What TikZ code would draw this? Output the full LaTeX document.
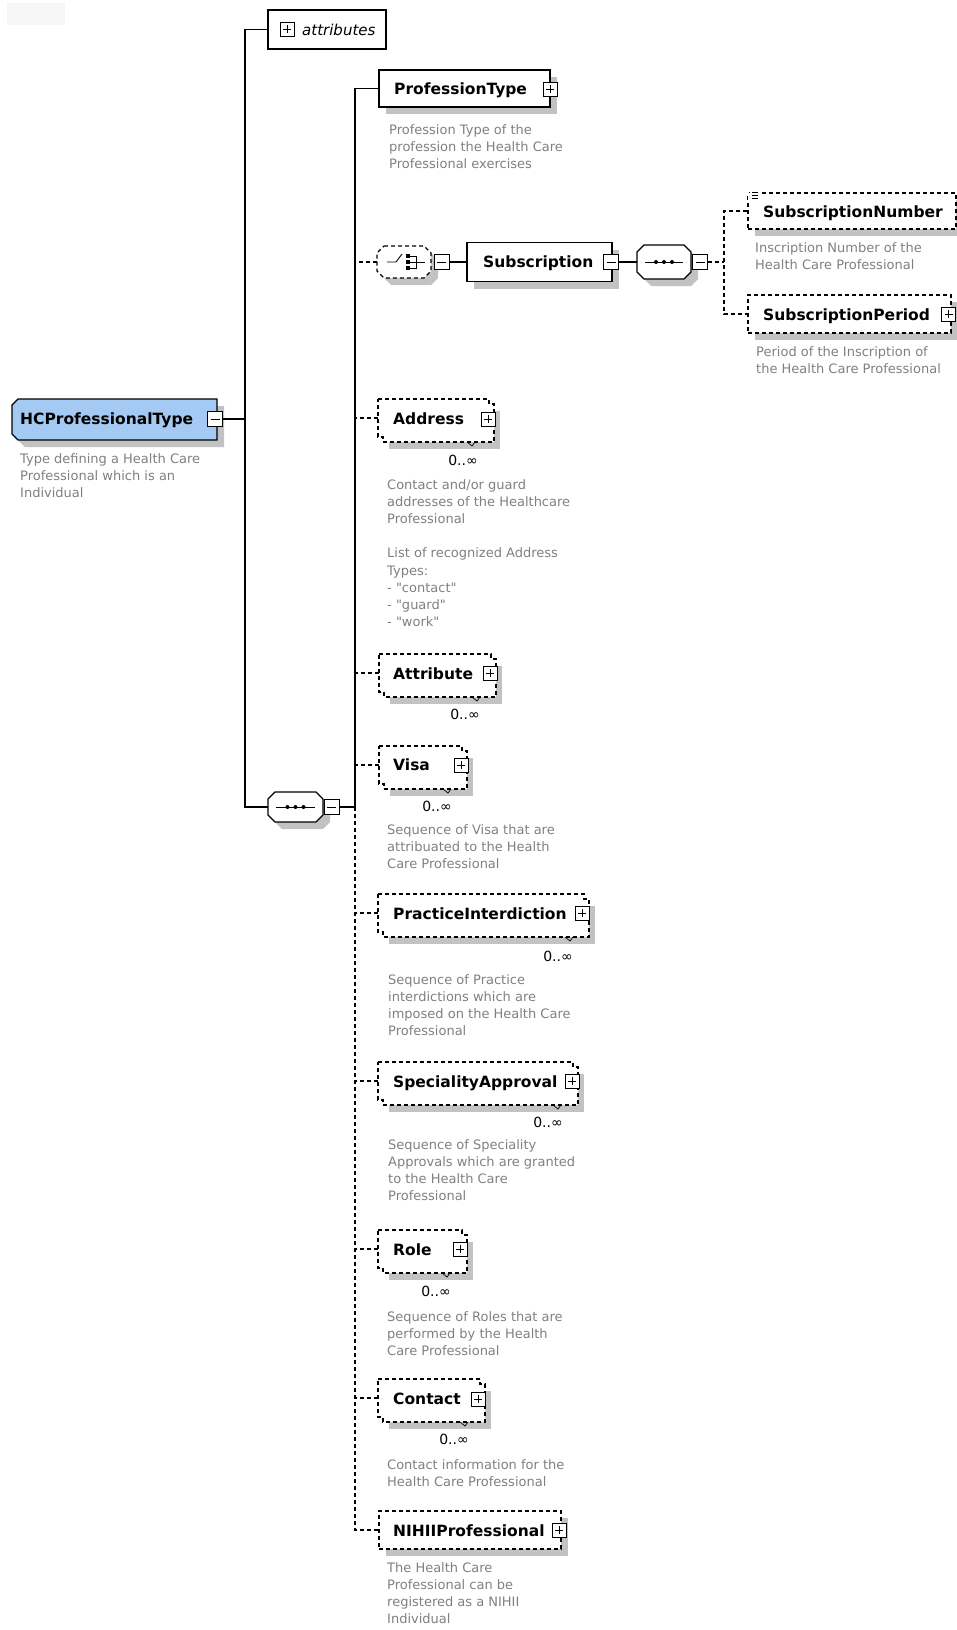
\documentclass[tikz,border=0pt]{standalone}
\usepackage{fontspec}
\setmainfont{DejaVu Sans}
\newfontfamily\quotefont{DejaVu Sans}
\usetikzlibrary{positioning,fit,shadows}
\definecolor{hcblue}{RGB}{164,201,242}
\definecolor{shadowgray}{RGB}{194,194,194}
\definecolor{descgray}{RGB}{128,128,128}
\newcommand{\elemfont}{\fontsize{15.5}{18}\selectfont\bfseries}
\newcommand{\descfont}{\fontsize{13}{17.2}\selectfont}
\newcommand{\cardfont}{\fontsize{14}{16}\selectfont}
\newcommand{\attrfont}{\fontsize{15}{18}\selectfont\itshape}
\newcommand{\qq}{{\quotefont"}}
\tikzset{
  conn/.style={line width=1.1pt},
  opt/.style={conn, dash pattern=on 4pt off 3pt},
  shade box/.style={drop shadow={shadow xshift=7pt, shadow yshift=-7pt, fill=shadowgray, opacity=1}},
  plainbox/.style={draw, fill=white, line width=1.1pt, inner sep=0pt},
  elem/.style={plainbox, shade box},
  optelem/.style={elem, dash pattern=on 4pt off 3pt},
  pmbox/.style={draw, fill=white, line width=0.9pt, minimum size=15pt, inner sep=0pt},
  plusbox/.style={pmbox, minimum size=14pt, path picture={
    \draw[line width=0.9pt] ([xshift=3pt]path picture bounding box.west) -- ([xshift=-3pt]path picture bounding box.east)
      ([yshift=-3pt]path picture bounding box.north) -- ([yshift=3pt]path picture bounding box.south);}},
  minusbox/.style={pmbox, path picture={
    \draw[line width=0.9pt] ([xshift=3pt]path picture bounding box.west) -- ([xshift=-3pt]path picture bounding box.east);}},
  lbl/.style={anchor=base west, inner sep=0pt, font=\elemfont},
  desc/.style={anchor=north west, inner sep=0pt, align=left, font=\descfont, text=descgray},
  card/.style={inner sep=0pt, font=\cardfont}
}
% element that may occur many times: front box (#2,#3)-(#4,#5), notch at x=#6
\newcommand{\manybox}[6]{%
  \fill[shadowgray] (#2+11,#3+12) rectangle (#4+11,#5+12);
  \filldraw[fill=white, opt] (#2,#3) -- (#4,#3) -- (#4,#3+5) -- (#4+5,#3+5) -- (#4+5,#5+5)
    -- (#2+5,#5+5) -- (#2+5,#5) -- (#2,#5) -- cycle;
  \draw[line width=0.7pt] (#6-5,#5+5) -- (#6,#5+9) -- (#6+3,#5+5);
  \node[inner sep=0pt, fit={(#2,#3) (#4,#5)}] (#1) {};
}
% compositor octagon (#2,#3)-(#4,#5), extra line options #6
\newcommand{\compbox}[6]{%
  \fill[shadowgray] (#2+14,#3+7) -- (#4,#3+7) -- (#4+7,#3+14) -- (#4+7,#5) -- (#4,#5+7)
    -- (#2+14,#5+7) -- (#2+7,#5) -- (#2+7,#3+14) -- cycle;
  \filldraw[fill=white, conn, #6] (#2+7,#3) -- (#4-7,#3) -- (#4,#3+7) -- (#4,#5-7) -- (#4-7,#5)
    -- (#2+7,#5) -- (#2,#5-7) -- (#2,#3+7) -- cycle;
  \node[inner sep=0pt, fit={(#2,#3) (#4,#5)}] (#1) {};
}
\newcommand{\seqicon}[1]{%
  \draw[line width=1pt] ([xshift=8pt]#1.west) -- ([xshift=-8pt]#1.east);
  \foreach \d in {-8,0,8} \fill[black] ([xshift=\d pt]#1.center) circle (2pt);
}

\begin{document}
\begin{tikzpicture}[x=1pt,y=-1pt]
    \useasboundingbox (0,0) rectangle (957,1630);
    \fill[gray!7] (7,3) rectangle (65,25);

    % the complex type
    \fill[shadowgray] (25,406) -- (224,406) -- (224,447) -- (25,447) -- (19,441) -- (19,412) -- cycle;
    \filldraw[fill=hcblue, conn] (18,399) -- (217,399) -- (217,440) -- (18,440) -- (12,434) -- (12,405) -- cycle;
    \node[inner sep=0pt, fit={(12,399) (217,440)}] (hc) {};
    \node[lbl] (hcL) at (20,424) {HCProfessionalType};
    \node[minusbox] (hcM) at (215,419) {};
    \node[desc] (hcD) at (20,453) {Type defining a Health Care\\Professional which is an\\Individual};

    \node[plainbox, minimum width=118pt, minimum height=39pt] (attr) at (327,29.5) {};
    \node[plusbox] (attrP) at (287,29) {};
    \node[anchor=base west, inner sep=0pt, font=\attrfont] (attrL) at (302,35) {attributes};

    \compbox{seq}{268}{792}{323}{822}{}
    \seqicon{seq}
    \node[minusbox] (seqM) at (331.5,807) {};

    \coordinate (j1) at (245,419);
    \coordinate (b0) at (355,807);
    \draw[conn] (hcM.east) -- (j1);
    \draw[conn] (attr.west) -| (j1) |- (seq.west);
    \draw[conn] (seqM.east) -- (b0);

    % children of the sequence
    \node[elem, minimum width=171pt, minimum height=37pt] (prof) at (464.5,88.5) {};
    \node[lbl] (profL) at (394,94) {ProfessionType};
    \node[plusbox] (profP) at (550,89) {};
    \node[desc] (profD) at (389,124) {Profession Type of the\\profession the Health Care\\Professional exercises};
    \draw[conn] (prof.west) -| (b0);

    \compbox{choice}{377}{246}{431}{278}{dash pattern=on 4pt off 3pt}
    \begin{scope}[shift={(choice.center)}, line width=0.9pt]
      \draw (-17,0) -- (-8,0) -- (-2,-8);
      \foreach \d in {-6,0,6} \fill (2.2,\d-1.8) rectangle (5.8,\d+1.8);
      \draw (6,-6) -- (12,-6) -- (12,6) -- (6,6) (6,0) -- (21,0);
    \end{scope}
    \node[minusbox] (choiceM) at (441.5,262) {};
    \node[elem, minimum width=145pt, minimum height=39pt] (sub) at (539.5,262) {};
    \node[lbl] (subL) at (483,267.5) {Subscription};
    \node[minusbox] (subM) at (611,262) {};
    \compbox{seq2}{637}{245}{691}{279}{}
    \seqicon{seq2}
    \node[minusbox] (seq2M) at (700,262) {};
    \coordinate (b1) at (724,262);
    \draw[conn] (choiceM.east) -- (sub.west);
    \draw[conn] (subM.east) -- (seq2.west);
    \draw[opt] (seq2M.east) -- (b1);

    \node[optelem, minimum width=208pt, minimum height=36pt] (snum) at (852,211) {};
    \node[lbl] (snumL) at (763,217) {SubscriptionNumber};
    \fill[white] (748,190) rectangle (759,200);
    \draw[line width=0.7pt] (749,192) -- (750,192) (752,192) -- (758,192) (752,195) -- (758,195) (752,198) -- (758,198);
    \node[desc] (snumD) at (755,242) {Inscription Number of the\\Health Care Professional};
    \node[optelem, minimum width=203pt, minimum height=38pt] (sper) at (849.5,314) {};
    \node[lbl] (sperL) at (763,320) {SubscriptionPeriod};
    \node[plusbox] (sperP) at (948.5,314) {};
    \node[desc] (sperD) at (756,346) {Period of the Inscription of\\the Health Care Professional};
    \draw[opt] (snum.west) -| (b1) |- (sper.west);

    \manybox{addr}{378}{399}{489}{437}{472}
    \node[plusbox] (addrP) at (488,419) {};
    \node[lbl] (addrL) at (393,424.5) {Address};
    \node[card] (addrN) at (463,460) {0..∞};
    \node[desc] (addrD) at (387,479) {Contact and/or guard\\addresses of the Healthcare\\Professional\\\mbox{}\\List of recognized Address\\Types:\\- \qq contact\qq\\- \qq guard\qq\\- \qq work\qq};

    \manybox{attrib}{379}{654}{491}{692}{477}
    \node[plusbox] (attribP) at (490,673) {};
    \node[lbl] (attribL) at (393,679) {Attribute};
    \node[card] (attribN) at (465,714) {0..∞};

    \manybox{visa}{379}{746}{462}{784}{448}
    \node[plusbox] (visaP) at (461,765) {};
    \node[lbl] (visaL) at (393,770) {Visa};
    \node[card] (visaN) at (437,806) {0..∞};
    \node[desc] (visaD) at (387,824) {Sequence of Visa that are\\attribuated to the Health\\Care Professional};

    \manybox{prac}{378}{894}{584}{932}{570}
    \node[plusbox] (pracP) at (582,913) {};
    \node[lbl] (pracL) at (393,919) {PracticeInterdiction};
    \node[card] (pracN) at (558,956) {0..∞};
    \node[desc] (pracD) at (388,974) {Sequence of Practice\\interdictions which are\\imposed on the Health Care\\Professional};

    \manybox{spec}{378}{1062}{573}{1100}{558}
    \node[plusbox] (specP) at (572,1081) {};
    \node[lbl] (specL) at (393,1087) {SpecialityApproval};
    \node[card] (specN) at (548,1122) {0..∞};
    \node[desc] (specD) at (388,1139) {Sequence of Speciality\\Approvals which are granted\\to the Health Care\\Professional};

    \manybox{role}{378}{1230}{462}{1268}{447}
    \node[plusbox] (roleP) at (460,1249) {};
    \node[lbl] (roleL) at (393,1255) {Role};
    \node[card] (roleN) at (436,1291) {0..∞};
    \node[desc] (roleD) at (387,1311) {Sequence of Roles that are\\performed by the Health\\Care Professional};

    \manybox{cont}{378}{1379}{480}{1417}{465}
    \node[plusbox] (contP) at (478,1399) {};
    \node[lbl] (contL) at (393,1404) {Contact};
    \node[card] (contN) at (454,1439) {0..∞};
    \node[desc] (contD) at (387,1459) {Contact information for the\\Health Care Professional};

    \node[optelem, minimum width=182pt, minimum height=38pt] (nihii) at (470,1530) {};
    \node[plusbox] (nihiiP) at (559,1530) {};
    \node[lbl] (nihiiL) at (393,1536) {NIHIIProfessional};
    \node[desc] (nihiiD) at (387,1562) {The Health Care\\Professional can be\\registered as a NIHII\\Individual};

    \foreach \n in {choice,addr,attrib,visa,prac,spec,role,cont}
      \draw[opt] (\n.west) -- (\n.west -| b0);
    \draw[opt] (b0) |- (nihii.west);
\end{tikzpicture}
\end{document}
